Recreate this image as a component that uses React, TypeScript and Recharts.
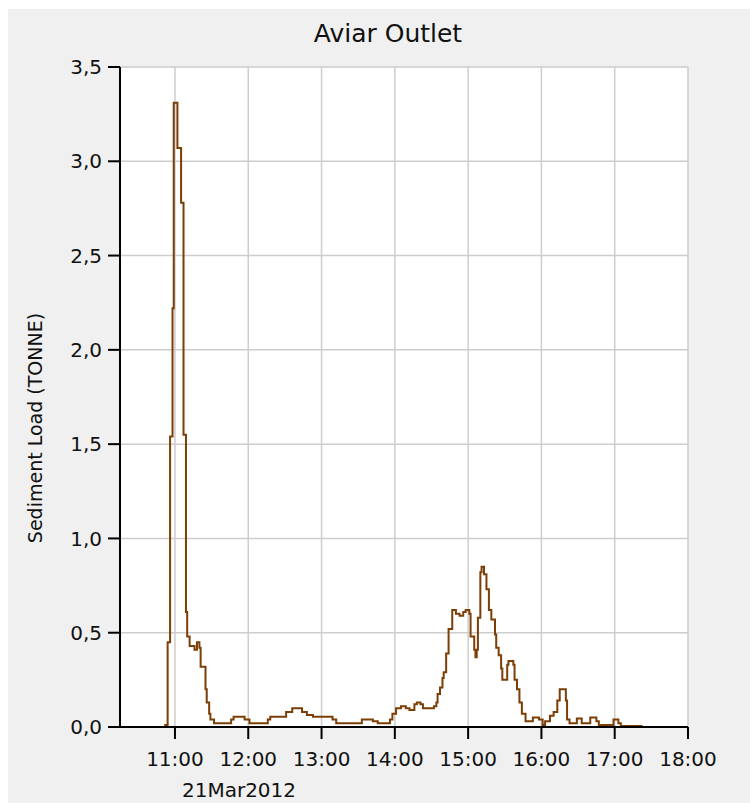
import { LineChart, Line, XAxis, YAxis, CartesianGrid } from 'recharts'

// minutes since midnight, 21 Mar 2012
const minutes = [
  615, 652, 654, 656, 658, 659, 662, 665, 667, 669,
  670, 672, 676, 678, 680, 681, 685, 686, 688, 689,
  692, 706, 708, 717, 721, 736, 738, 751, 756, 764,
  768, 773, 789, 792, 813, 822, 826, 836, 838, 841,
  845, 849, 852, 856, 858, 861, 863, 872, 874, 875,
  877, 879, 880, 882, 884, 887, 890, 893, 896, 898,
  901, 902, 905, 906, 907, 908, 910, 911, 913, 915,
  917, 919, 922, 923, 925, 927, 928, 932, 933, 937,
  938, 940, 942, 944, 947, 953, 958, 961, 963, 967,
  970, 973, 975, 980, 981, 983, 989, 993, 1000, 1005,
  1007, 1019, 1023, 1025, 1042, 1080,
]

// sediment load (TONNE)
const loads = [
  0, 0.01, 0.45, 1.54, 2.22, 3.31, 3.07, 2.78, 1.55, 0.61,
  0.48, 0.43, 0.41, 0.45, 0.42, 0.32, 0.2, 0.13, 0.07, 0.04,
  0.02, 0.04, 0.055, 0.04, 0.02, 0.04, 0.055, 0.08, 0.1, 0.08,
  0.063, 0.055, 0.04, 0.02, 0.04, 0.03, 0.02, 0.04, 0.07, 0.1,
  0.11, 0.1, 0.09, 0.12, 0.13, 0.12, 0.1, 0.11, 0.13, 0.175,
  0.21, 0.26, 0.29, 0.39, 0.52, 0.62, 0.6, 0.59, 0.61, 0.62,
  0.6, 0.48, 0.41, 0.37, 0.41, 0.58, 0.82, 0.85, 0.81, 0.73,
  0.62, 0.57, 0.49, 0.42, 0.38, 0.31, 0.25, 0.33, 0.35, 0.33,
  0.25, 0.2, 0.13, 0.07, 0.03, 0.05, 0.04, 0.01, 0.03, 0.06,
  0.08, 0.14, 0.2, 0.14, 0.04, 0.02, 0.045, 0.02, 0.05, 0.03,
  0.01, 0.04, 0.02, 0.005, 0, 0,
]

const xTicks = [660, 720, 780, 840, 900, 960, 1020, 1080]
const yTicks = [0, 0.5, 1, 1.5, 2, 2.5, 3, 3.5]
const dateLabel = '21Mar2012'

const data = minutes.map((m, i) => ({ t: m, load: loads[i] }))

const FONT = '"DejaVu Sans", Verdana, sans-serif'

// tick del eje X, con la fecha bajo la primera hora
function HourTick({ x, y, payload }: { x?: number; y?: number; payload?: { value: number } }) {
  const v = payload?.value ?? 0
  return (
    <g>
      <text x={x} y={y} dy="0.71em" textAnchor="middle" fontSize={20} fontFamily={FONT} fill="#111">
        {`${v / 60}:00`}
      </text>
      {v === xTicks[0] && (
        <text x={(x ?? 0) + 7} y={(y ?? 0) + 45} textAnchor="start" fontSize={20} fontFamily={FONT} fill="#111">
          {dateLabel}
        </text>
      )}
    </g>
  )
}

function YLabel({ viewBox }: { viewBox?: { x: number; y: number; width: number; height: number } }) {
  if (!viewBox) return null
  const cx = viewBox.x + 27
  const cy = viewBox.y + viewBox.height / 2 + 31
  return (
    <text x={cx} y={cy} transform={`rotate(-90 ${cx} ${cy})`} textAnchor="middle" dominantBaseline="central"
      fontSize={19} fontFamily={FONT} fill="#111">
      Sediment Load (TONNE)
    </text>
  )
}

export default function App() {
  return (
    <div style={{ position: 'absolute', left: 8, top: 9, width: 742, height: 794, background: '#f0f0f0' }}>
      <div style={{
        position: 'absolute', left: 0, top: 12, width: 760, textAlign: 'center',
        fontFamily: FONT, fontSize: 25, lineHeight: '25px', color: '#111',
      }}>
        Aviar Outlet
      </div>
      <div style={{ position: 'absolute', left: 0, top: 0 }}>
        <LineChart width={714} height={794} data={data} margin={{ top: 58, right: 34, left: 0, bottom: 6 }}>
          <CartesianGrid fill="#ffffff" stroke="#cdcdcd" strokeWidth={1.5} />
          <XAxis
            dataKey="t" type="number" scale="linear" domain={[615, 1080]} ticks={xTicks}
            allowDataOverflow height={70} tickSize={12} tickMargin={13}
            axisLine={{ stroke: '#000', strokeWidth: 2 }} tickLine={{ stroke: '#000', strokeWidth: 2 }}
            tick={<HourTick />} interval={0}
          />
          <XAxis
            xAxisId="top" orientation="top" dataKey="t" type="number" domain={[615, 1080]}
            height={0} tick={false} tickLine={false} axisLine={{ stroke: '#000', strokeWidth: 2 }}
          />
          <YAxis
            type="number" domain={[0, 3.5]} ticks={yTicks} width={112} tickSize={12} tickMargin={6}
            axisLine={{ stroke: '#000', strokeWidth: 2 }} tickLine={{ stroke: '#000', strokeWidth: 2 }}
            tick={{ fontSize: 20, fontFamily: FONT, fill: '#111' }}
            tickFormatter={(v: number) => v.toFixed(1).replace('.', ',')}
            label={<YLabel />}
          />
          <YAxis
            yAxisId="right" orientation="right" domain={[0, 3.5]} width={0}
            tick={false} tickLine={false} axisLine={{ stroke: '#222', strokeWidth: 2 }}
          />
          <Line
            type="stepAfter" dataKey="load" stroke="#7b3e05" strokeWidth={2}
            dot={false} isAnimationActive={false}
          />
        </LineChart>
      </div>
    </div>
  )
}
